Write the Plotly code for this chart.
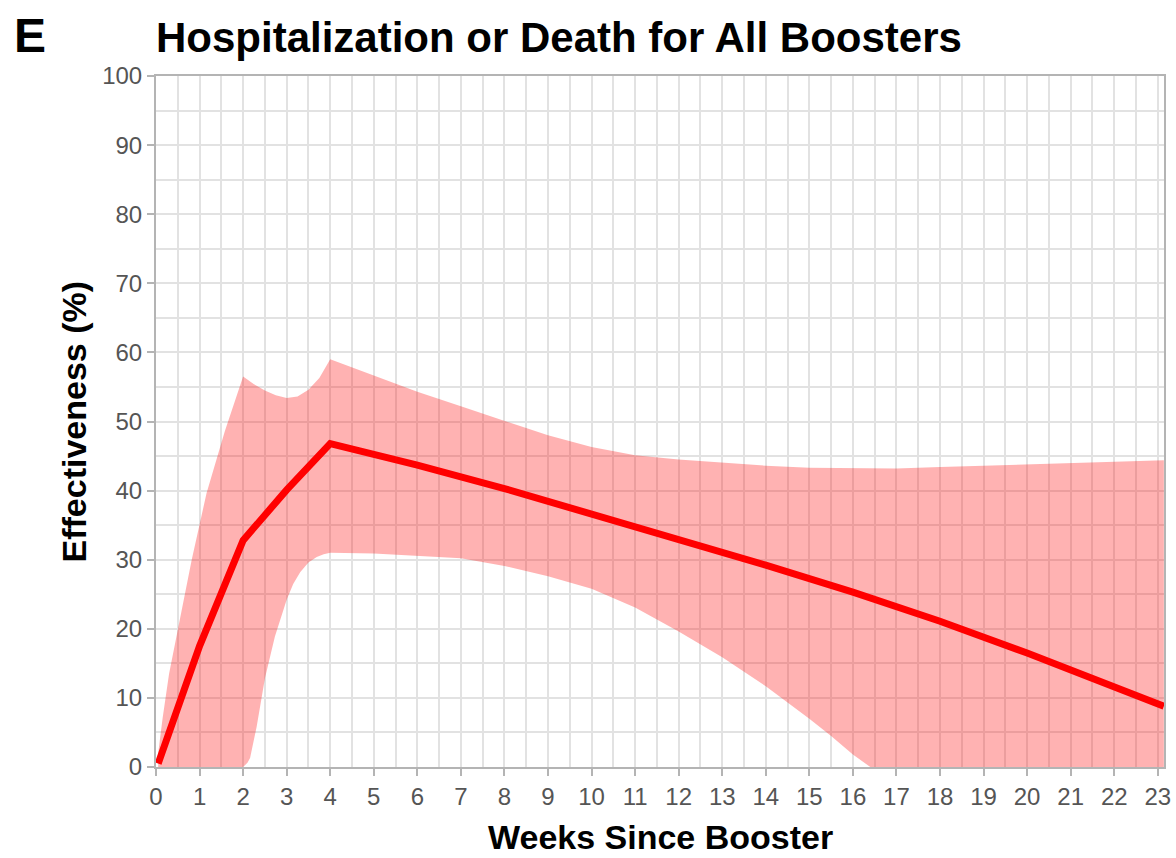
import plotly.graph_objects as go

# Mean effectiveness line (weeks since booster, %)
mean_weeks = [0.05, 1, 2, 3, 4, 6, 8, 10, 12, 14, 16, 18, 20, 22, 23.14]
mean_vals = [0.5, 17.5, 32.8, 40.1, 46.8, 43.7, 40.3, 36.6, 33.0, 29.2, 25.3, 21.1, 16.5, 11.5, 8.8]

# Upper confidence bound
upper_weeks = [0.05, 0.15, 0.3, 0.55, 0.82, 1.16, 1.58, 2.0, 2.25, 2.5, 2.75, 3.0, 3.25, 3.5, 3.75, 4.0,
               5.0, 6.0, 7.0, 8.0, 9.0, 10.0, 11.0, 12.0, 13.0, 14.0, 15.0, 16.0, 17.0,
               18.0, 19.0, 20.0, 21.0, 22.0, 23.14]
upper_vals = [2.0, 7.0, 13.5, 21.5, 30.0, 39.6, 48.6, 56.5, 55.4, 54.5, 53.8, 53.4, 53.6, 54.6, 56.3, 59.0,
              56.7, 54.3, 52.2, 50.1, 48.0, 46.3, 45.1, 44.5, 44.0, 43.6, 43.3, 43.2, 43.2,
              43.4, 43.6, 43.8, 44.0, 44.2, 44.4]

# Lower confidence bound
lower_weeks = [0.05, 2.0, 2.1, 2.16, 2.31, 2.5, 2.73, 3.0, 3.15, 3.31, 3.5, 3.69, 3.85, 4.0, 5.0, 6.0,
               7.0, 8.0, 9.0, 10.0, 11.0, 12.0, 13.0, 14.0, 15.0, 15.5, 16.0, 16.4, 23.14]
lower_vals = [0.0, 0.0, 0.6, 1.3, 5.8, 12.8, 18.9, 24.2, 26.5, 28.2, 29.6, 30.4, 30.8, 31.0, 30.9, 30.6,
              30.2, 29.1, 27.6, 25.8, 23.1, 19.6, 15.9, 11.7, 7.0, 4.5, 1.8, 0.0, 0.0]

x_ticks = list(range(0, 24))
y_ticks = list(range(0, 101, 10))

FONT = "Liberation Sans, Arial, sans-serif"
AXIS_GREY = "#b4b4b4"
GRID = "#e2e2e2"

fig = go.Figure()

# CI band: polygon (upper forward, lower backward)
fig.add_trace(go.Scatter(
    x=upper_weeks + lower_weeks[::-1],
    y=upper_vals + lower_vals[::-1],
    fill="toself",
    fillcolor="rgba(255,0,0,0.30)",
    line=dict(width=0),
    mode="lines",
    hoverinfo="skip",
    showlegend=False,
))

fig.add_trace(go.Scatter(
    x=mean_weeks, y=mean_vals,
    mode="lines",
    line=dict(color="#ff0000", width=7),
    showlegend=False,
))

fig.update_layout(
    width=1176, height=858,
    margin=dict(l=156, r=12, t=76, b=91, autoexpand=False),
    paper_bgcolor="white",
    plot_bgcolor="white",
    font=dict(family=FONT, color="#555555"),
    showlegend=False,
)

fig.update_xaxes(
    range=[0, 23.143], automargin=False,
    tickmode="array", tickvals=x_ticks, ticktext=[str(v) for v in x_ticks],
    ticks="outside", ticklen=7, tickwidth=1.5, tickcolor=AXIS_GREY,
    tickfont=dict(size=24, color="#555555", family=FONT),
    showline=True, linecolor=AXIS_GREY, linewidth=2, mirror=True,
    showgrid=True, gridcolor=GRID, gridwidth=1.5,
    minor=dict(dtick=0.5, tick0=0, showgrid=True, gridcolor=GRID, gridwidth=1.5, ticks=""),
    zeroline=False,
)
fig.update_yaxes(
    range=[0, 100], automargin=False,
    tickmode="array", tickvals=y_ticks, ticktext=[str(v) for v in y_ticks],
    ticks="outside", ticklen=7, tickwidth=1.5, tickcolor=AXIS_GREY,
    tickfont=dict(size=24, color="#555555", family=FONT),
    showline=True, linecolor=AXIS_GREY, linewidth=2, mirror=True,
    showgrid=True, gridcolor=GRID, gridwidth=1.5,
    minor=dict(dtick=5, tick0=0, showgrid=True, gridcolor=GRID, gridwidth=1.5, ticks=""),
    zeroline=False,
)

annotations = [
    dict(text="<b>E</b>", xref="paper", yref="paper", x=-0.1429, y=1.0586,
         xanchor="left", yanchor="middle", showarrow=False,
         font=dict(size=48, color="black", family=FONT)),
    dict(text="<b>Hospitalization or Death for All Boosters</b>", xref="paper", yref="paper",
         x=-0.002, y=1.0557, xanchor="left", yanchor="middle", showarrow=False,
         font=dict(size=42, color="black", family=FONT)),
    dict(text="<b>Effectiveness (%)</b>", xref="paper", yref="paper",
         x=-0.0814, y=0.5, xanchor="center", yanchor="middle", textangle=-90, showarrow=False,
         font=dict(size=34, color="black", family=FONT)),
    dict(text="<b>Weeks Since Booster</b>", xref="paper", yref="paper",
         x=0.5, y=-0.1013, xanchor="center", yanchor="middle", showarrow=False,
         font=dict(size=34, color="black", family=FONT)),
]
fig.update_layout(annotations=annotations)

fig.write_html(
    "out.html",
    config={"displayModeBar": False},
    post_script="document.body.style.margin='0';document.body.style.padding='0';document.body.style.overflow='hidden';",
)
